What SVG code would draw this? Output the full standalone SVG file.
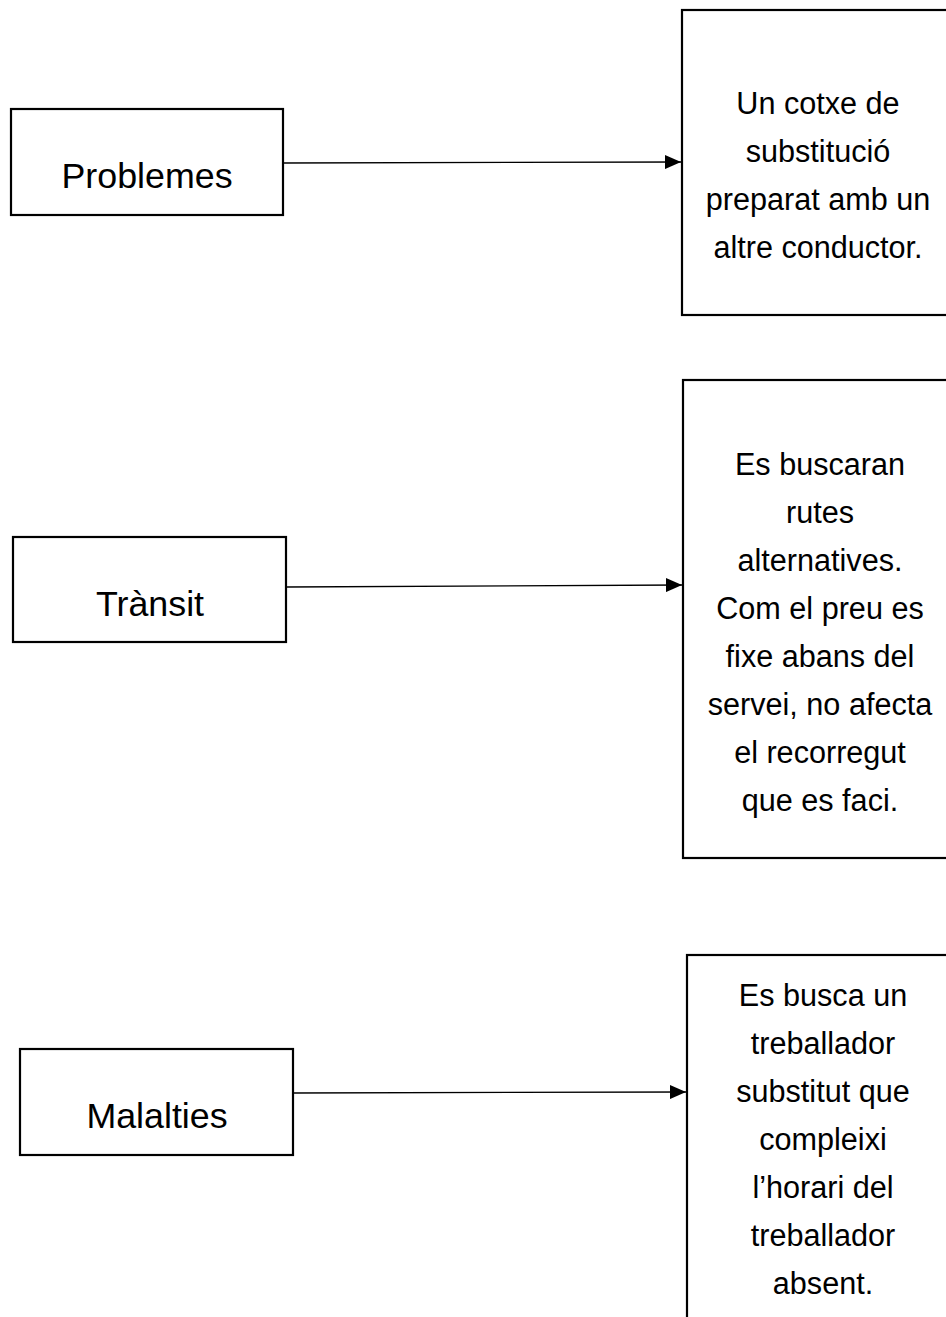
<svg xmlns="http://www.w3.org/2000/svg" width="946" height="1317" viewBox="0 0 946 1317">
<style>
.box{fill:#fff;stroke:#000;stroke-width:2.2}
.lbl{font-family:"Liberation Sans",Arial,sans-serif;font-size:35.8px;fill:#000;text-anchor:middle}
.txt{font-family:"Liberation Sans",Arial,sans-serif;font-size:30.6px;fill:#000;text-anchor:middle}
.con{stroke:#000;stroke-width:1.3;fill:none}
</style>
<defs>
<marker id="ah" markerUnits="userSpaceOnUse" markerWidth="16" markerHeight="14" refX="16" refY="7" orient="auto">
<path d="M0,0 L16,7 L0,14 Z" fill="#000"/>
</marker>
</defs>
<rect width="946" height="1317" fill="#fff"/>
<g id="problemes"><rect class="box" x="11" y="109" width="272" height="106"/><text class="lbl" x="147" y="188">Problemes</text></g>
<g id="transit"><rect class="box" x="13" y="537" width="273" height="105"/><text class="lbl" x="150" y="616">Trànsit</text></g>
<g id="malalties"><rect class="box" x="20" y="1049" width="273" height="106"/><text class="lbl" x="157" y="1128">Malalties</text></g>
<g id="sol1"><rect class="box" x="682" y="10" width="280" height="305"/>
<text class="txt" x="818" y="114">Un cotxe de</text>
<text class="txt" x="818" y="162">substitució</text>
<text class="txt" x="818" y="210">preparat amb un</text>
<text class="txt" x="818" y="258">altre conductor.</text></g>
<g id="sol2"><rect class="box" x="683" y="380" width="280" height="478"/>
<text class="txt" x="820" y="475">Es buscaran</text>
<text class="txt" x="820" y="523">rutes</text>
<text class="txt" x="820" y="571">alternatives.</text>
<text class="txt" x="820" y="619">Com el preu es</text>
<text class="txt" x="820" y="667">fixe abans del</text>
<text class="txt" x="820" y="715">servei, no afecta</text>
<text class="txt" x="820" y="763">el recorregut</text>
<text class="txt" x="820" y="811">que es faci.</text></g>
<g id="sol3"><rect class="box" x="687" y="955" width="280" height="400"/>
<text class="txt" x="823" y="1006">Es busca un</text>
<text class="txt" x="823" y="1054">treballador</text>
<text class="txt" x="823" y="1102">substitut que</text>
<text class="txt" x="823" y="1150">compleixi</text>
<text class="txt" x="823" y="1198">l’horari del</text>
<text class="txt" x="823" y="1246">treballador</text>
<text class="txt" x="823" y="1294">absent.</text></g>
<g id="connectors">
<line class="con" x1="284" y1="163" x2="681" y2="162" marker-end="url(#ah)"/>
<line class="con" x1="287" y1="587" x2="682" y2="585" marker-end="url(#ah)"/>
<line class="con" x1="294" y1="1093" x2="686" y2="1092" marker-end="url(#ah)"/>
</g>
</svg>
